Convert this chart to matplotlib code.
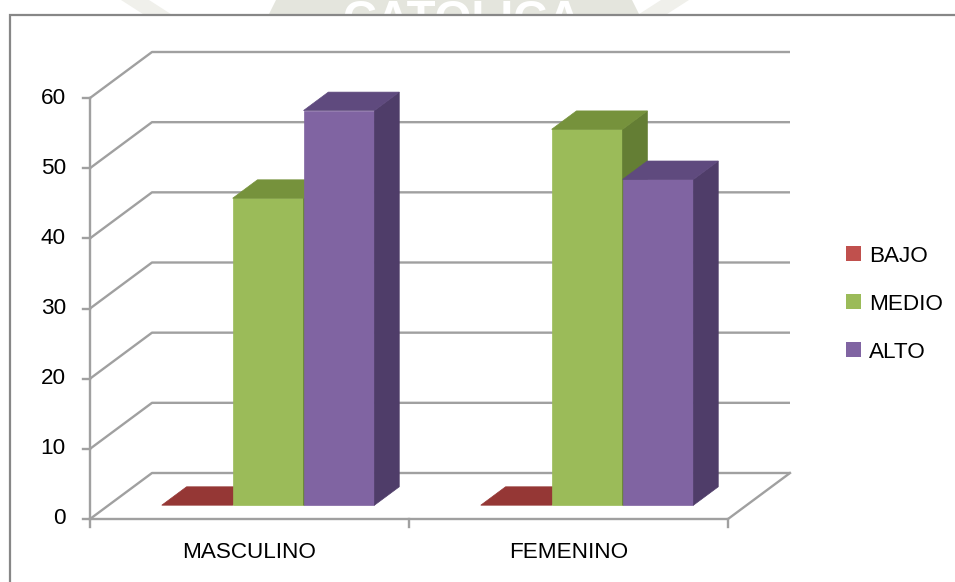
import matplotlib.pyplot as plt
from matplotlib.patches import Polygon, Patch, Rectangle

plt.rcParams['font.family'] = ['Liberation Sans', 'DejaVu Sans']

categories = ["MASCULINO", "FEMENINO"]
series = ["BAJO", "MEDIO", "ALTO"]
bajo = [0.0, 0.0]
medio = [43.75, 53.57]
alto = [56.25, 46.43]
y_ticks = [0, 10, 20, 30, 40, 50, 60]

front_colors = ["#c0504d", "#9bbb59", "#8064a2"]
top_colors = ["#953735", "#76923c", "#5f4a7e"]
side_colors = ["#7f2f2d", "#647e34", "#4f3d69"]
grid_color = "#a0a0a0"
label_size = 16.2

W, H = 955, 582
fig = plt.figure(figsize=(W / 100, H / 100), dpi=100)
ax = fig.add_axes([0, 0, 1, 1])
ax.axis("off")

# plot box anchors in pixels: category axis from x0 to x2, value 0..60 from y0 up to y60
X0_PX, X2_PX = 90, 728
Y0_PX, Y60_PX = 519, 98
sx = (X2_PX - X0_PX) / len(categories)
sy = (Y0_PX - Y60_PX) / y_ticks[-1]
ax.set_xlim(-X0_PX / sx, (W - X0_PX) / sx)
ax.set_ylim(-(H - Y0_PX) / sy, Y0_PX / sy)

# oblique depth of the 3D box
DX = 62 / sx
DY = 46 / sy
Z_FRONT, Z_BACK = 0.3, 0.7
n_cat = len(categories)


def proj(x, y, z):
    return (x + z * DX, y + z * DY)


def px(x, y):
    return (x / W, 1 - y / H)


# faint watermark band peeking over the chart frame
ax.add_patch(Polygon([px(276, 0), px(632, 0), px(640, 16), px(268, 16)],
                     closed=True, transform=ax.transAxes, facecolor="#e4e5dd",
                     edgecolor="none", zorder=0))
for a, b in [((135, 0), (160, 16)), ((675, 0), (650, 16))]:
    ax.add_patch(Polygon([px(a[0] - 14, a[1]), px(a[0] + 14, a[1]),
                          px(b[0] + 14, b[1]), px(b[0] - 14, b[1])],
                         closed=True, transform=ax.transAxes,
                         facecolor="#f0f0eb", edgecolor="none", zorder=0))
ax.text(*px(462, -1), "CATOLICA", transform=ax.transAxes, fontsize=34,
        fontweight="bold", color="white", ha="center", va="top", zorder=0.2)

# chart area frame
ax.add_patch(Rectangle(px(10, H + 10), (W + 10) / W, (H - 5) / H,
                       transform=ax.transAxes, facecolor="white",
                       edgecolor="#878787", lw=1.6, zorder=0.5, clip_on=False))

# side wall and back wall gridlines
for t in y_ticks:
    xs, ys = zip(proj(0, t, 0), proj(0, t, 1), proj(n_cat, t, 1))
    ax.plot(xs, ys, color=grid_color, lw=1.7, zorder=1, solid_capstyle="butt")
    ax.plot([-7 / sx, 0], [t, t], color=grid_color, lw=1.7, zorder=1)
    ax.text(-24 / sx, t, str(t), ha="right", va="center", fontsize=label_size,
            color="black")

# floor edges and axes
xs, ys = zip(proj(0, 0, 0), proj(n_cat, 0, 0), proj(n_cat, 0, 1))
ax.plot(xs, ys, color=grid_color, lw=1.7, zorder=1)
ax.plot([0, 0], [0, y_ticks[-1]], color=grid_color, lw=1.7, zorder=1)
for k in range(n_cat + 1):
    ax.plot([k, k], [0, -8 / sy], color=grid_color, lw=1.7, zorder=1)

for i, cat in enumerate(categories):
    ax.text(i + 0.5, -34 / sy, cat, ha="center", va="center",
            fontsize=label_size, color="black")

# 3D columns
w = 1 / (len(series) + 1.5)
for i in range(n_cat):
    for j, vals in enumerate([bajo, medio, alto]):
        v = vals[i]
        x0 = i + 0.5 - 1.5 * w + j * w
        x1 = x0 + w
        z = 2 + i + j * 0.1
        top = [proj(x0, v, Z_FRONT), proj(x1, v, Z_FRONT),
               proj(x1, v, Z_BACK), proj(x0, v, Z_BACK)]
        if v > 0:
            front = [proj(x0, 0, Z_FRONT), proj(x1, 0, Z_FRONT),
                     proj(x1, v, Z_FRONT), proj(x0, v, Z_FRONT)]
            side = [proj(x1, 0, Z_FRONT), proj(x1, 0, Z_BACK),
                    proj(x1, v, Z_BACK), proj(x1, v, Z_FRONT)]
            ax.add_patch(Polygon(front, closed=True, facecolor=front_colors[j],
                                 edgecolor=front_colors[j], lw=0.5, zorder=z))
            ax.add_patch(Polygon(side, closed=True, facecolor=side_colors[j],
                                 edgecolor=side_colors[j], lw=0.5, zorder=z))
        ax.add_patch(Polygon(top, closed=True, facecolor=top_colors[j],
                             edgecolor=top_colors[j], lw=0.5, zorder=z + 0.01))

handles = [Patch(facecolor=c, edgecolor="none", label=s)
           for s, c in zip(series, front_colors)]
ax.legend(handles=handles, loc="center left", bbox_to_anchor=px(846, 304),
          bbox_transform=ax.transAxes, frameon=False, fontsize=label_size,
          handlelength=0.66, handleheight=0.66, handletextpad=0.35,
          labelspacing=1.2, borderpad=0, borderaxespad=0)

fig.savefig("out.png", dpi=100)
